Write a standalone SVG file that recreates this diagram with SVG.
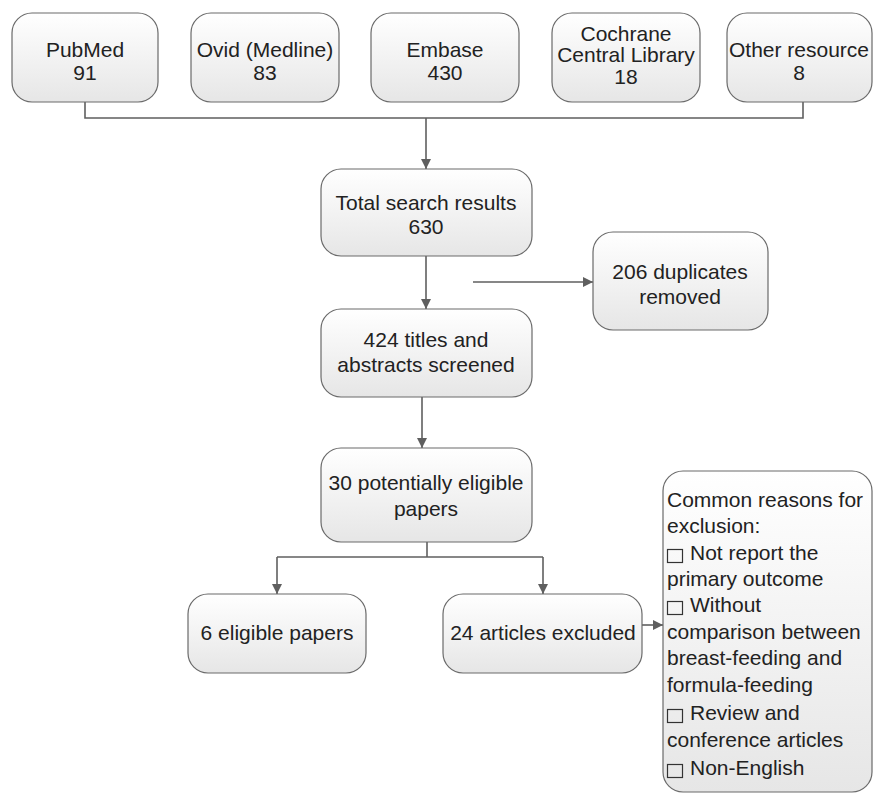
<svg xmlns="http://www.w3.org/2000/svg" width="873" height="793" viewBox="0 0 873 793">
<defs>
<linearGradient id="g" x1="0" y1="0" x2="0" y2="1">
<stop offset="0" stop-color="#ffffff"/>
<stop offset="1" stop-color="#e6e6e6"/>
</linearGradient>
<marker id="ah" viewBox="0 0 10 10" refX="10" refY="5" markerWidth="10" markerHeight="10" markerUnits="userSpaceOnUse" orient="auto">
<path d="M0,0 L10,5 L0,10 z" fill="#5f5f5f"/>
</marker>
<style>
.box{fill:url(#g);stroke:#6a6a6a;stroke-width:1.2}
.t{font-family:"Liberation Sans",Arial,sans-serif;font-size:21px;fill:#222;text-anchor:middle}
.l{font-family:"Liberation Sans",Arial,sans-serif;font-size:21px;fill:#222}
.c{fill:none;stroke:#5f5f5f;stroke-width:1.6}
.cb{fill:none;stroke:#333;stroke-width:1.2}
</style>
</defs>
<rect width="873" height="793" fill="#fff"/>
<g id="connectors">
<path class="c" d="M85,102 V118 H803 V102"/>
<path class="c" d="M426,118 V169" marker-end="url(#ah)"/>
<path class="c" d="M426,256 V309" marker-end="url(#ah)"/>
<path class="c" d="M473,282 H593" marker-end="url(#ah)"/>
<path class="c" d="M422,397 V448" marker-end="url(#ah)"/>
<path class="c" d="M427,542 V557"/>
<path class="c" d="M277,557 H543"/>
<path class="c" d="M277,557 V594" marker-end="url(#ah)"/>
<path class="c" d="M543,557 V594" marker-end="url(#ah)"/>
<path class="c" d="M642,625 H663" marker-end="url(#ah)"/>
</g>
<g id="pubmed">
<rect class="box" x="12" y="13" width="146" height="89" rx="20"/>
<text class="t" x="85" y="57">PubMed</text>
<text class="t" x="85" y="80">91</text>
</g>
<g id="ovid">
<rect class="box" x="191" y="13" width="148" height="89" rx="20"/>
<text class="t" x="265" y="57">Ovid (Medline)</text>
<text class="t" x="265" y="80">83</text>
</g>
<g id="embase">
<rect class="box" x="371" y="13" width="148" height="89" rx="20"/>
<text class="t" x="445" y="57">Embase</text>
<text class="t" x="445" y="80">430</text>
</g>
<g id="cochrane">
<rect class="box" x="552" y="13" width="148" height="89" rx="20"/>
<text class="t" x="626" y="41">Cochrane</text>
<text class="t" x="626" y="62">Central Library</text>
<text class="t" x="626" y="84">18</text>
</g>
<g id="other">
<rect class="box" x="727" y="13" width="145" height="89" rx="20"/>
<text class="t" x="799" y="57">Other resource</text>
<text class="t" x="799" y="80">8</text>
</g>
<g id="total">
<rect class="box" x="321" y="169" width="211" height="87" rx="20"/>
<text class="t" x="426" y="210">Total search results</text>
<text class="t" x="426" y="234">630</text>
</g>
<g id="duplicates">
<rect class="box" x="593" y="232" width="175" height="98" rx="20"/>
<text class="t" x="680" y="279">206 duplicates</text>
<text class="t" x="680" y="304">removed</text>
</g>
<g id="screened">
<rect class="box" x="321" y="309" width="211" height="88" rx="20"/>
<text class="t" x="426" y="347">424 titles and</text>
<text class="t" x="426" y="372">abstracts screened</text>
</g>
<g id="potential">
<rect class="box" x="321" y="448" width="211" height="94" rx="20"/>
<text class="t" x="426" y="490">30 potentially eligible</text>
<text class="t" x="426" y="516">papers</text>
</g>
<g id="eligible">
<rect class="box" x="188" y="594" width="178" height="79" rx="20"/>
<text class="t" x="277" y="640">6 eligible papers</text>
</g>
<g id="excluded">
<rect class="box" x="443" y="594" width="199" height="79" rx="20"/>
<text class="t" x="543" y="640">24 articles excluded</text>
</g>
<g id="reasons">
<rect class="box" x="663" y="471" width="209" height="321" rx="20"/>
<text class="l" x="667" y="507">Common reasons for</text>
<text class="l" x="667" y="533">exclusion:</text>
<rect class="cb" x="667.5" y="549.5" width="15" height="13"/>
<text class="l" x="690" y="560">Not report the</text>
<text class="l" x="667" y="586">primary outcome</text>
<rect class="cb" x="667.5" y="601.5" width="15" height="13"/>
<text class="l" x="690" y="612">Without</text>
<text class="l" x="667" y="639">comparison between</text>
<text class="l" x="667" y="665">breast-feeding and</text>
<text class="l" x="667" y="692">formula-feeding</text>
<rect class="cb" x="667.5" y="709.5" width="15" height="13"/>
<text class="l" x="690" y="720">Review and</text>
<text class="l" x="667" y="747">conference articles</text>
<rect class="cb" x="667.5" y="764.5" width="15" height="13"/>
<text class="l" x="690" y="775">Non-English</text>
</g>
</svg>
